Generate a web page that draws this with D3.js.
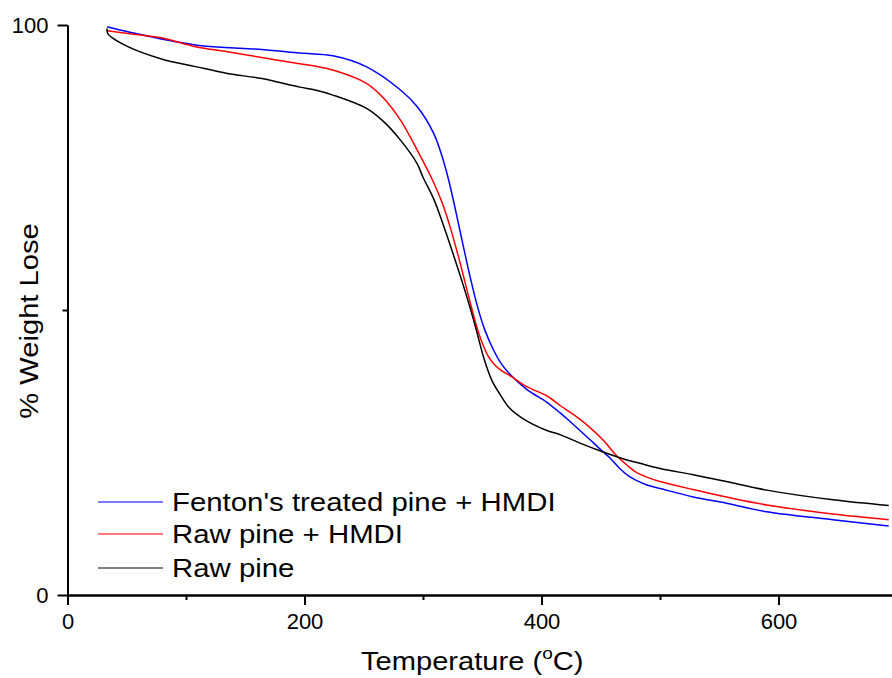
<!DOCTYPE html>
<html>
<head>
<meta charset="utf-8">
<script src="https://cdn.jsdelivr.net/npm/d3@7"></script>
<style>
  body { margin: 0; background: #fff; }
  svg { display: block; font-family: "Liberation Sans", Arial, sans-serif; }
</style>
</head>
<body>
<svg id="chart" width="892" height="678"></svg>
<script>
// TGA curves
const fentonTemp   = [33.5, 51, 108, 164, 196, 224, 252, 281, 295, 309, 316, 322, 328, 334, 340, 346, 352, 359, 366, 374, 388, 404, 416, 421, 438, 451, 458, 466, 474, 480, 489, 500, 528, 556, 590, 646, 693];
const fentonWeight = [99.7, 98.8, 96.5, 95.7, 95.1, 94.6, 92.7, 88.6, 85.7, 81.0, 77.0, 72.5, 67.0, 61.2, 55.6, 50.6, 46.6, 43.2, 40.6, 38.6, 36.0, 33.9, 31.9, 31.0, 27.8, 25.3, 24.0, 22.2, 20.8, 20.1, 19.3, 18.7, 17.2, 16.1, 14.6, 13.2, 12.1];

const rawHmdiTemp   = [33.5, 51, 80, 108, 135, 164, 196, 209, 224, 252, 267, 281, 295, 308, 316, 323, 331, 338, 345, 350, 355, 360, 366, 374, 388, 404, 416, 428, 438, 452, 463, 472, 480, 490, 500, 528, 556, 590, 646, 693];
const rawHmdiWeight = [99.0, 98.5, 97.7, 96.2, 95.3, 94.3, 93.2, 92.8, 92.1, 89.8, 87.1, 83.3, 78.1, 72.8, 68.9, 64.5, 58.5, 52.8, 47.3, 44.2, 41.9, 40.5, 39.4, 38.4, 36.5, 35.0, 33.2, 31.5, 29.9, 27.2, 24.5, 22.8, 21.5, 20.6, 19.9, 18.5, 17.2, 15.8, 14.2, 13.2];

const rawTemp   = [33.5, 34, 51, 80, 108, 135, 164, 196, 209, 224, 252, 267, 281, 295, 300, 309, 317, 328, 337, 345, 351, 358, 365, 373, 384, 404, 416, 433, 452, 472, 483, 500, 528, 556, 590, 646, 693];
const rawWeight = [99.4, 98.5, 96.2, 94.0, 92.7, 91.5, 90.6, 89.1, 88.6, 87.7, 85.4, 83.0, 79.8, 75.7, 73.3, 69.5, 65.0, 58.2, 52.3, 46.5, 41.8, 37.7, 35.2, 32.8, 31.0, 28.9, 28.1, 26.6, 25.1, 23.7, 23.1, 22.2, 21.1, 19.9, 18.4, 16.7, 15.7];

const seriesNames = ["Fenton's treated pine + HMDI", "Raw pine + HMDI", "Raw pine"];
const seriesColors = ["#0000ff", "#ff0000", "#000000"];
const legendColors = ["#7b7bff", "#ff7b7b", "#808080"];

const xMajorTicks = [0, 200, 400, 600];
const xMinorTicks = [100, 300, 500, 700];
const yMajorTicks = [0, 100];
const yMinorTicks = [50];

const series = [
  d3.zip(fentonTemp, fentonWeight),
  d3.zip(rawHmdiTemp, rawHmdiWeight),
  d3.zip(rawTemp, rawWeight)
];

const svg = d3.select("#chart");

const x = d3.scaleLinear().domain([0, 700]).range([67.5, 897]);
const y = d3.scaleLinear().domain([0, 100]).range([595, 25]);

// curves
const line = d3.line()
  .x(d => x(d[0]))
  .y(d => y(d[1]))
  .curve(d3.curveCatmullRom.alpha(0.5));

svg.append("g")
  .selectAll("path")
  .data(series)
  .enter()
  .append("path")
  .attr("d", line)
  .attr("fill", "none")
  .attr("stroke", (d, i) => seriesColors[i])
  .attr("stroke-width", 1.5);

// axes
function styleAxis(g) {
  g.selectAll("path, line").attr("stroke", "#000").attr("stroke-width", 2);
  g.selectAll("text").attr("font-size", 22).attr("fill", "#000").attr("font-family", null);
}

svg.append("g")
  .attr("transform", "translate(0,595)")
  .call(d3.axisBottom(x).tickValues(xMinorTicks).tickSize(5).tickSizeOuter(0).tickFormat(""))
  .call(styleAxis);

svg.append("g")
  .attr("transform", "translate(0,595)")
  .call(d3.axisBottom(x).tickValues(xMajorTicks).tickSize(10).tickSizeOuter(0).tickPadding(8))
  .call(styleAxis);

svg.append("g")
  .attr("transform", "translate(67.5,0)")
  .call(d3.axisLeft(y).tickValues(yMinorTicks).tickSize(5).tickSizeOuter(0).tickFormat(""))
  .call(styleAxis);

svg.append("g")
  .attr("transform", "translate(67.5,0)")
  .call(d3.axisLeft(y).tickValues(yMajorTicks).tickSize(10).tickSizeOuter(0).tickPadding(9))
  .call(styleAxis);

// axis titles (the source text is a bit wider than Arial, hence the scale)
const xTitle = svg.append("text")
  .attr("transform", "translate(361,670) scale(1.12,1)")
  .attr("font-size", 26)
  .text("Temperature (");
xTitle.append("tspan").attr("dy", -11).attr("font-size", 17).text("o");
xTitle.append("tspan").attr("dy", 11).text("C)");

svg.append("text")
  .attr("transform", "translate(38,321) rotate(-90) scale(1.12,1)")
  .attr("text-anchor", "middle")
  .attr("font-size", 26)
  .text("% Weight Lose");

// legend
const legendY = [502, 534, 568];
const legend = svg.append("g")
  .selectAll("g")
  .data(seriesNames)
  .enter()
  .append("g")
  .attr("transform", (d, i) => "translate(0," + legendY[i] + ")");

legend.append("line")
  .attr("x1", 98).attr("x2", 163)
  .attr("stroke", (d, i) => legendColors[i])
  .attr("stroke-width", 2);

legend.append("text")
  .attr("transform", "translate(172,9) scale(1.13,1)")
  .attr("font-size", 26)
  .text(d => d);
</script>
</body>
</html>
